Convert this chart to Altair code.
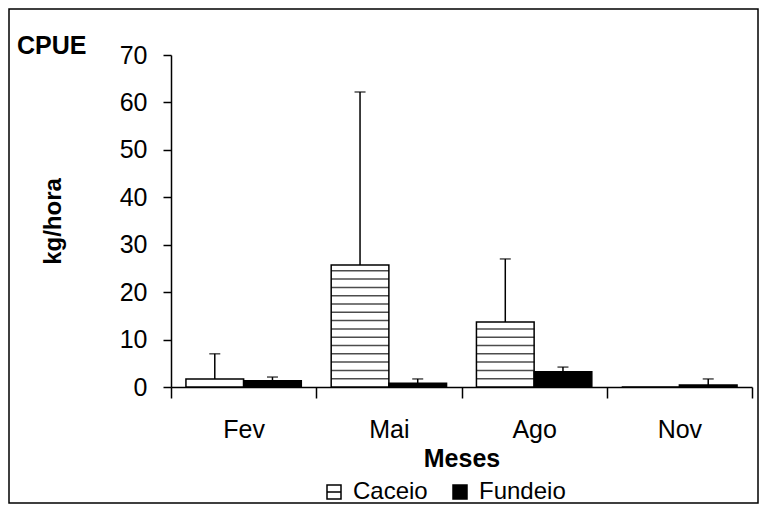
import altair as alt
import pandas as pd

# ---- data ----
months = ["Fev", "Mai", "Ago", "Nov"]
series = ["Caceio", "Fundeio"]
caceio = [1.7, 25.7, 13.7, 0.0]
fundeio = [1.3, 0.8, 3.2, 0.4]
caceio_upper = [7.0, 62.2, 27.0, 0.0]     # top of the error bar
fundeio_upper = [2.1, 1.7, 4.2, 1.7]
y_ticks = [0, 10, 20, 30, 40, 50, 60, 70]

rows = []
for i, m in enumerate(months):
    rows.append({"mes": m, "serie": "Caceio", "valor": caceio[i], "sup": caceio_upper[i]})
    rows.append({"mes": m, "serie": "Fundeio", "valor": fundeio[i], "sup": fundeio_upper[i]})
df = pd.DataFrame(rows)

FONT = "Liberation Sans"
W, H = 581, 332
PAD_L, PAD_T, PAD_R, PAD_B = 163, 47, 8, 118

x_enc = alt.X(
    "mes:N", sort=months, title="Meses",
    scale=alt.Scale(paddingInner=0, paddingOuter=0),
    axis=alt.Axis(
        tickBand="extent", tickSize=11, tickColor="black", tickWidth=1.5,
        domainColor="black", domainWidth=1.5, labelAngle=0,
        labelFont=FONT, labelFontSize=25, labelColor="black", labelPadding=19,
        titleFont=FONT, titleFontSize=25, titleFontWeight="bold", titleColor="black",
        titleY=79, titleBaseline="alphabetic",
    ),
)
xoff_enc = alt.XOffset("serie:N", sort=series,
                       scale=alt.Scale(paddingInner=0, paddingOuter=0.259))

y_axis = alt.Axis(
    values=y_ticks, grid=False, tickSize=8, tickColor="black", tickWidth=1.5,
    domainColor="black", domainWidth=1.5,
    labelFont=FONT, labelFontSize=25, labelColor="black", labelPadding=16,
    title="kg/hora", titleFont=FONT, titleFontSize=24, titleFontWeight="bold",
    titleColor="black", titleAngle=-90, titleX=-106, titleY=166,
    titleBaseline="bottom", titleAlign="center",
)
y_scale = alt.Scale(domain=[0, 70], nice=False)

base = alt.Chart(df)

bars = base.mark_bar(stroke="black", strokeWidth=1.5).encode(
    x=x_enc, xOffset=xoff_enc,
    y=alt.Y("valor:Q", scale=y_scale, axis=y_axis),
    fill=alt.Fill(
        "serie:N", sort=series,
        scale=alt.Scale(domain=series, range=["white", "black"]),
        legend=alt.Legend(
            title=None, orient="none", direction="horizontal",
            legendX=151, legendY=425,
            symbolType="M-1,-1H1V1H-1Z M-1,0H1", symbolSize=196,
            symbolStrokeColor="black", symbolStrokeWidth=1.5,
            labelFont=FONT, labelFontSize=24, labelColor="black",
            labelOffset=7, columnPadding=20,
        ),
    ),
)

stripes = (
    base.transform_filter(alt.datum.serie == "Caceio")
    .transform_calculate(s="sequence(1.75, datum.valor, 1.75)")
    .transform_flatten(["s"])
    .mark_tick(orient="horizontal", size=58, thickness=1.5, color="black")
    .encode(x=x_enc, xOffset=xoff_enc, y=alt.Y("s:Q", scale=y_scale, axis=y_axis))
)

err = (
    base.transform_filter(alt.datum.sup > alt.datum.valor)
    .mark_rule(color="black", strokeWidth=1.5)
    .encode(x=x_enc, xOffset=xoff_enc,
            y=alt.Y("valor:Q", scale=y_scale, axis=y_axis), y2="sup:Q")
)

caps = (
    base.transform_filter(alt.datum.sup > alt.datum.valor)
    .mark_tick(orient="horizontal", size=11, thickness=1.5, color="black")
    .encode(x=x_enc, xOffset=xoff_enc, y=alt.Y("sup:Q", scale=y_scale, axis=y_axis))
)

# outer frame around the whole chart
frame = alt.Chart(alt.Data(values=[{"f": 1}])).mark_rect(
    fill=None, stroke="black", strokeWidth=1.5
).encode(
    x=alt.value(1 - PAD_L), x2=alt.value(750 - PAD_L),
    y=alt.value(1 - PAD_T), y2=alt.value(495 - PAD_T),
)

chart = (
    alt.layer(bars, stripes, err, caps, frame)
    .properties(
        width=W, height=H,
        title=alt.TitleParams(
            "CPUE", anchor="start", frame="group", font=FONT, fontSize=25,
            fontWeight="bold", color="black", baseline="alphabetic",
            offset=0, dx=-154, dy=71,
        ),
        autosize="none",
        padding={"left": PAD_L, "top": PAD_T, "right": PAD_R, "bottom": PAD_B},
    )
    .configure_view(stroke=None)
)

chart.save("out.html", embed_options={"renderer": "svg", "actions": False})
